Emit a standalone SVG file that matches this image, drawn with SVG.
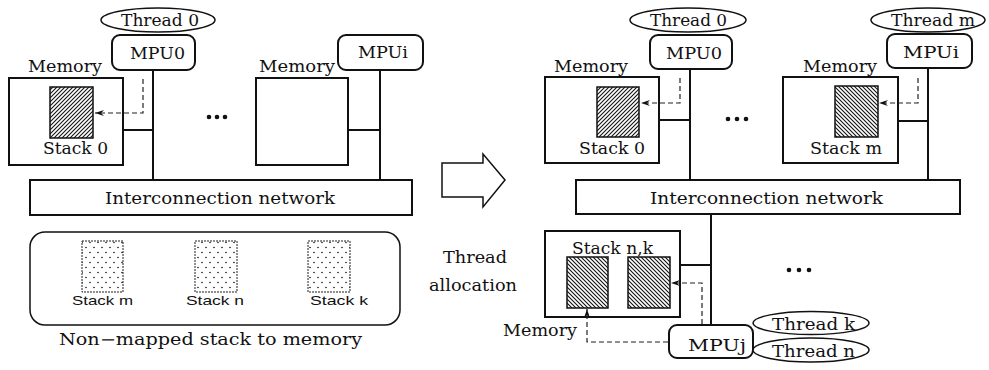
<svg xmlns="http://www.w3.org/2000/svg" width="989" height="370" viewBox="0 0 989 370">
<style>
text{font-family:"DejaVu Serif","Liberation Serif",serif;font-size:17px;fill:#111}
.sm{font-size:13px;font-family:"Liberation Sans","DejaVu Sans",sans-serif}
.th{font-size:16px}
.box{fill:#fff;stroke:#111;stroke-width:2}
.mpu{fill:#fff;stroke:#111;stroke-width:2}
.ell{fill:#fff;stroke:#111;stroke-width:1.5}
.ln{fill:none;stroke:#111;stroke-width:2}
.dash{fill:none;stroke:#222;stroke-width:1.2;stroke-dasharray:5 3}
.ha{fill:url(#hatchA);stroke:#111;stroke-width:1.5}
.hb{fill:url(#hatchB);stroke:#111;stroke-width:1.5}
.dot{fill:url(#dots);stroke:#222;stroke-width:1;stroke-dasharray:2 1}
</style>
<defs>
<pattern id="hatchA" width="4" height="4" patternUnits="userSpaceOnUse">
<path d="M-1,1 l2,-2 M0,4 l4,-4 M3,5 l2,-2" stroke="#111" stroke-width="1.1"/>
</pattern>
<pattern id="hatchB" width="4" height="4" patternUnits="userSpaceOnUse">
<path d="M-1,3 l2,2 M0,0 l4,4 M3,-1 l2,2" stroke="#111" stroke-width="1.1"/>
</pattern>
<pattern id="dots" width="8" height="10" patternUnits="userSpaceOnUse">
<circle cx="2" cy="2.5" r="0.8" fill="#111"/>
<circle cx="6" cy="7.5" r="0.8" fill="#111"/>
</pattern>
<marker id="arr" markerWidth="10" markerHeight="8" refX="9" refY="4" orient="auto" markerUnits="userSpaceOnUse">
<path d="M0,1 L9,4 L0,7 L3,4 z" fill="#111"/>
</marker>
</defs>

<g id="thread0-left">
<ellipse class="ell" cx="158" cy="20" rx="57" ry="12"/>
<text class="th" x="121" y="26" textLength="78" lengthAdjust="spacingAndGlyphs">Thread  0</text>
</g>
<g id="mpu0-left">
<rect class="mpu" x="112" y="35" width="83" height="35" rx="8"/>
<text x="130" y="59" textLength="55" lengthAdjust="spacingAndGlyphs">MPU0</text>
</g>
<g id="memory0-left">
<text x="28" y="72" textLength="74" lengthAdjust="spacingAndGlyphs">Memory</text>
<rect class="box" x="9" y="78" width="114" height="87"/>
<rect class="ha" x="50" y="87" width="43" height="51"/>
<text x="43" y="154" textLength="65" lengthAdjust="spacingAndGlyphs">Stack  0</text>
</g>
<g id="dots-left">
<circle cx="209" cy="117" r="2.3" fill="#111"/>
<circle cx="217" cy="117" r="2.3" fill="#111"/>
<circle cx="225" cy="117" r="2.3" fill="#111"/>
</g>
<g id="memoryi-left">
<text x="259" y="72" textLength="76" lengthAdjust="spacingAndGlyphs">Memory</text>
<rect class="box" x="256" y="78" width="92" height="87"/>
</g>
<g id="mpui-left">
<rect class="mpu" x="338" y="35" width="85" height="35" rx="8"/>
<text x="358" y="58" textLength="50" lengthAdjust="spacingAndGlyphs">MPUi</text>
</g>
<g id="network-left">
<rect class="box" x="30" y="180" width="382" height="35"/>
<text x="105" y="204" textLength="230" lengthAdjust="spacingAndGlyphs">Interconnection  network</text>
</g>
<g id="nonmapped">
<rect fill="#fff" stroke="#111" stroke-width="1.5" x="30" y="232" width="370" height="93" rx="15"/>
<rect class="dot" x="82" y="241" width="41" height="51"/>
<text class="sm" x="72" y="305" textLength="61" lengthAdjust="spacingAndGlyphs">Stack  m</text>
<rect class="dot" x="195" y="241" width="42" height="51"/>
<text class="sm" x="186" y="305" textLength="58" lengthAdjust="spacingAndGlyphs">Stack  n</text>
<rect class="dot" x="308" y="241" width="42" height="51"/>
<text class="sm" x="310" y="305" textLength="58" lengthAdjust="spacingAndGlyphs">Stack  k</text>
<text class="th" x="59" y="345" textLength="303" lengthAdjust="spacingAndGlyphs">Non−mapped  stack  to  memory</text>
</g>

<g id="big-arrow">
<polygon points="442,163 483,163 483,154 505,180 483,207 483,197 442,197" fill="#fff" stroke="#111" stroke-width="1.5"/>
</g>
<g id="thread-allocation">
<text x="443" y="263" textLength="64" lengthAdjust="spacingAndGlyphs">Thread</text>
<text x="429" y="291" textLength="88" lengthAdjust="spacingAndGlyphs">allocation</text>
</g>

<g id="thread0-right">
<ellipse class="ell" cx="688" cy="20" rx="58" ry="12"/>
<text class="th" x="650" y="26" textLength="77" lengthAdjust="spacingAndGlyphs">Thread  0</text>
</g>
<g id="mpu0-right">
<rect class="mpu" x="650" y="35" width="82" height="34" rx="8"/>
<text x="666" y="59" textLength="56" lengthAdjust="spacingAndGlyphs">MPU0</text>
</g>
<g id="memory0-right">
<text x="554" y="72" textLength="74" lengthAdjust="spacingAndGlyphs">Memory</text>
<rect class="box" x="545" y="77" width="114" height="86"/>
<rect class="ha" x="597" y="87" width="42" height="50"/>
<text x="579" y="154" textLength="66" lengthAdjust="spacingAndGlyphs">Stack  0</text>
</g>
<g id="dots-right">
<circle cx="728" cy="119" r="2.3" fill="#111"/>
<circle cx="737" cy="119" r="2.3" fill="#111"/>
<circle cx="746" cy="119" r="2.3" fill="#111"/>
</g>
<g id="memorym-right">
<text x="803" y="72" textLength="74" lengthAdjust="spacingAndGlyphs">Memory</text>
<rect class="box" x="783" y="77" width="115" height="86"/>
<rect class="hb" x="835" y="86" width="43" height="51"/>
<text x="810" y="154" textLength="72" lengthAdjust="spacingAndGlyphs">Stack  m</text>
</g>
<g id="threadm-right">
<ellipse class="ell" cx="928" cy="20" rx="57" ry="12"/>
<text class="th" x="891" y="26" textLength="84" lengthAdjust="spacingAndGlyphs">Thread  m</text>
</g>
<g id="mpui-right">
<rect class="mpu" x="887" y="34" width="85" height="34" rx="8"/>
<text x="903" y="58" textLength="56" lengthAdjust="spacingAndGlyphs">MPUi</text>
</g>
<g id="network-right">
<rect class="box" x="576" y="180" width="384" height="34"/>
<text x="650" y="204" textLength="233" lengthAdjust="spacingAndGlyphs">Interconnection  network</text>
</g>
<g id="memoryj-lower">
<rect class="box" x="545" y="231" width="135" height="86"/>
<text x="572" y="254" textLength="81" lengthAdjust="spacingAndGlyphs">Stack  n,k</text>
<rect class="hb" x="567" y="257" width="41" height="51"/>
<rect class="hb" x="628" y="257" width="42" height="51"/>
<text x="503" y="336" textLength="74" lengthAdjust="spacingAndGlyphs">Memory</text>
</g>
<g id="dots-lower">
<circle cx="789" cy="270" r="2.3" fill="#111"/>
<circle cx="799" cy="270" r="2.3" fill="#111"/>
<circle cx="809" cy="270" r="2.3" fill="#111"/>
</g>
<g id="mpuj">
<rect class="mpu" x="669" y="325" width="84" height="33" rx="8"/>
<text x="688" y="351" textLength="58" lengthAdjust="spacingAndGlyphs">MPUj</text>
</g>
<g id="threadk">
<ellipse class="ell" cx="811" cy="323" rx="58" ry="11.5"/>
<text class="th" x="772" y="330" textLength="83" lengthAdjust="spacingAndGlyphs">Thread  k</text>
</g>
<g id="threadn">
<ellipse class="ell" cx="811" cy="350" rx="58" ry="12"/>
<text class="th" x="772" y="357" textLength="83" lengthAdjust="spacingAndGlyphs">Thread  n</text>
</g>

<g id="connectors">
<line class="ln" x1="153" y1="70" x2="153" y2="180"/>
<line class="ln" x1="123" y1="130" x2="153" y2="130"/>
<line class="ln" x1="380" y1="70" x2="380" y2="180"/>
<line class="ln" x1="348" y1="130" x2="380" y2="130"/>
<line class="ln" x1="690" y1="69" x2="690" y2="180"/>
<line class="ln" x1="659" y1="120" x2="690" y2="120"/>
<line class="ln" x1="928" y1="68" x2="928" y2="180"/>
<line class="ln" x1="898" y1="121" x2="928" y2="121"/>
<line class="ln" x1="711" y1="214" x2="711" y2="325"/>
<line class="ln" x1="680" y1="265" x2="711" y2="265"/>
<path class="dash" d="M143,79 L143,113 L95,113" marker-end="url(#arr)"/>
<path class="dash" d="M680,78 L680,103 L641,103" marker-end="url(#arr)"/>
<path class="dash" d="M918,78 L918,103 L879,103" marker-end="url(#arr)"/>
<path class="dash" d="M702,324 L702,283 L671,283" marker-end="url(#arr)"/>
<path class="dash" d="M668,342 L587,342 L587,309" marker-end="url(#arr)"/>
</g>
</svg>
